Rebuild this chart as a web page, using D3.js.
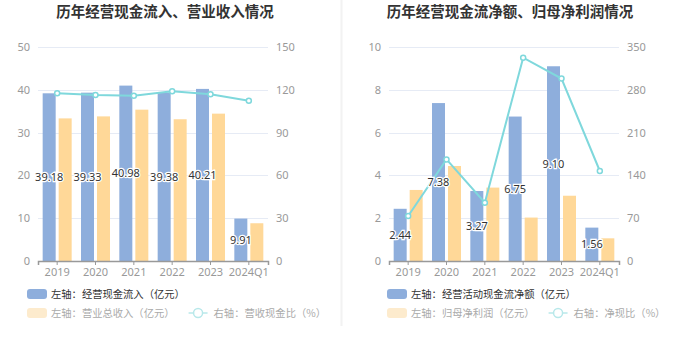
<!DOCTYPE html>
<html><head><meta charset="utf-8">
<script src="https://cdn.jsdelivr.net/npm/d3@7/dist/d3.min.js"></script>
<style>body{margin:0;background:#fff;}svg{display:block;font-family:"Noto Sans CJK SC","Noto Sans",sans-serif;}</style>
</head><body><svg id="c" width="680" height="349"></svg>
<script>
const categories = ["2019","2020","2021","2022","2023","2024Q1"];
// left chart
const cashInflow = [39.18,39.33,40.98,39.38,40.21,9.91];
const revenue = [33.32,33.79,35.36,33.12,34.43,8.82];
const cashRevenueRatio = [117.6,116.4,115.9,118.9,116.8,112.4];
const leftTicksL = [0,10,20,30,40,50];
const leftTicksR = [0,30,60,90,120,150];
// right chart
const netCash = [2.44,7.38,3.27,6.75,9.10,1.56];
const netProfit = [3.32,4.44,3.43,2.03,3.05,1.06];
const netCashRatio = [73.5,166.2,95.3,332.5,298.4,147.2];
const rightTicksL = [0,2,4,6,8,10];
const rightTicksR = [0,70,140,210,280,350];

const titles = ["历年经营现金流入、营业收入情况","历年经营现金流净额、归母净利润情况"];
const legends = [
  ["左轴：经营现金流入（亿元）","左轴：营业总收入（亿元）","右轴：营收现金比（%）"],
  ["左轴：经营活动现金流净额（亿元）","左轴：归母净利润（亿元）","右轴：净现比（%）"]
];

const svg = d3.select("#c");
const BLUE="#8eaedc", ORANGE="#ffd898", LINE="#7fd8dc";

svg.append("line").attr("x1",341.5).attr("x2",341.5).attr("y1",0).attr("y2",326)
  .attr("stroke","#f2f2f2").attr("stroke-width",2);

function drawChart(cfg){
  const g = svg.append("g");
  const top=47, bottom=261;
  const x = d3.scaleBand().domain(categories).range([cfg.x0,cfg.x1]);
  const yL = d3.scaleLinear().domain([0,cfg.ticksL[cfg.ticksL.length-1]]).range([bottom,top]);
  const yR = d3.scaleLinear().domain([0,cfg.ticksR[cfg.ticksR.length-1]]).range([bottom,top]);

  g.append("text").attr("x",cfg.titleX).attr("y",17).attr("text-anchor","middle")
    .attr("font-size",14.5).attr("font-weight","bold").attr("fill","#333").text(cfg.title);

  // grid
  g.selectAll(".grid").data(cfg.ticksL.slice(1)).enter().append("line")
    .attr("x1",cfg.x0).attr("x2",cfg.x1).attr("y1",d=>Math.round(yL(d))+0.5).attr("y2",d=>Math.round(yL(d))+0.5)
    .attr("stroke","#e6ebf5").attr("stroke-width",1);

  const axL = d3.axisLeft(yL).tickValues(cfg.ticksL).tickSize(0).tickPadding(8);
  const gl = g.append("g").attr("transform",`translate(${cfg.x0},0)`).call(axL);
  gl.select(".domain").remove();
  gl.selectAll("text").attr("fill","#999").attr("font-size",11).attr("font-family","Noto Sans, sans-serif");
  const axR = d3.axisRight(yR).tickValues(cfg.ticksR).tickSize(0).tickPadding(8);
  const gr = g.append("g").attr("transform",`translate(${cfg.x1},0)`).call(axR);
  gr.select(".domain").remove();
  gr.selectAll("text").attr("fill","#999").attr("font-size",11).attr("font-family","Noto Sans, sans-serif");

  const bw = 13, gap = 3;
  const cx = d => x(d)+x.bandwidth()/2;
  g.selectAll(".b1").data(categories).enter().append("rect")
    .attr("x",d=>cx(d)-gap/2-bw).attr("width",bw)
    .attr("y",(d,i)=>yL(cfg.s1[i])).attr("height",(d,i)=>bottom-yL(cfg.s1[i])).attr("fill",BLUE);
  g.selectAll(".b2").data(categories).enter().append("rect")
    .attr("x",d=>cx(d)+gap/2).attr("width",bw)
    .attr("y",(d,i)=>yL(cfg.s2[i])).attr("height",(d,i)=>bottom-yL(cfg.s2[i])).attr("fill",ORANGE);

  const axX = d3.axisBottom(x).tickSizeOuter(0).tickSize(4).tickPadding(3);
  const gx = g.append("g").attr("transform",`translate(0,${bottom})`).call(axX);
  gx.select(".domain").attr("stroke","#999").attr("stroke-width",1.5);
  gx.selectAll(".tick line").attr("stroke","#999");
  gx.selectAll("text").attr("fill","#999").attr("font-size",11).attr("font-family","Noto Sans, sans-serif");

  const line = d3.line().x(d=>cx(d[0])).y(d=>yR(d[1]));
  const pts = categories.map((c,i)=>[c,cfg.s3[i]]);
  g.append("path").datum(pts).attr("d",line).attr("fill","none").attr("stroke",LINE).attr("stroke-width",2);
  g.selectAll(".pt").data(pts).enter().append("circle").attr("cx",d=>cx(d[0])).attr("cy",d=>yR(d[1]))
    .attr("r",2.5).attr("fill","#fff").attr("stroke",LINE).attr("stroke-width",1.5);

  g.selectAll(".lbl").data(categories).enter().append("text")
    .attr("x",d=>cx(d)-gap/2-bw/2).attr("y",(d,i)=>yL(cfg.s1[i]/2)+4)
    .attr("text-anchor","middle").attr("font-size",11).attr("fill","#333")
    .attr("stroke","#fff").attr("stroke-width",2.5).attr("paint-order","stroke")
    .attr("font-family","Noto Sans, sans-serif")
    .text((d,i)=>cfg.s1[i].toFixed(2));

  const lx = cfg.legX, fs = 10.3;
  g.append("rect").attr("x",lx).attr("y",289).attr("width",20).attr("height",10).attr("rx",3).attr("fill",BLUE);
  g.append("text").attr("x",lx+24).attr("y",298).attr("font-size",fs).attr("fill","#333").text(cfg.leg[0]);
  g.append("rect").attr("x",lx).attr("y",308).attr("width",20).attr("height",10).attr("rx",3).attr("fill","#fdebcd");
  const t2 = g.append("text").attr("x",lx+24).attr("y",317).attr("font-size",fs).attr("fill","#aaa").text(cfg.leg[1]);
  const w2 = t2.node().getComputedTextLength();
  const sx = lx+24+w2+14;
  g.append("line").attr("x1",sx).attr("x2",sx+19).attr("y1",313).attr("y2",313).attr("stroke","#b8e8ea").attr("stroke-width",1.5);
  g.append("circle").attr("cx",sx+9.5).attr("cy",313).attr("r",4.5).attr("fill","#fff").attr("stroke","#b8e8ea").attr("stroke-width",1.5);
  g.append("text").attr("x",sx+25).attr("y",317).attr("font-size",fs).attr("fill","#aaa").text(cfg.leg[2]);
}

drawChart({x0:38,x1:268,titleX:165,title:titles[0],ticksL:leftTicksL,ticksR:leftTicksR,
  s1:cashInflow,s2:revenue,s3:cashRevenueRatio,legX:27,leg:legends[0]});
drawChart({x0:389,x1:619,titleX:510,title:titles[1],ticksL:rightTicksL,ticksR:rightTicksR,
  s1:netCash,s2:netProfit,s3:netCashRatio,legX:387,leg:legends[1]});
</script></body></html>
